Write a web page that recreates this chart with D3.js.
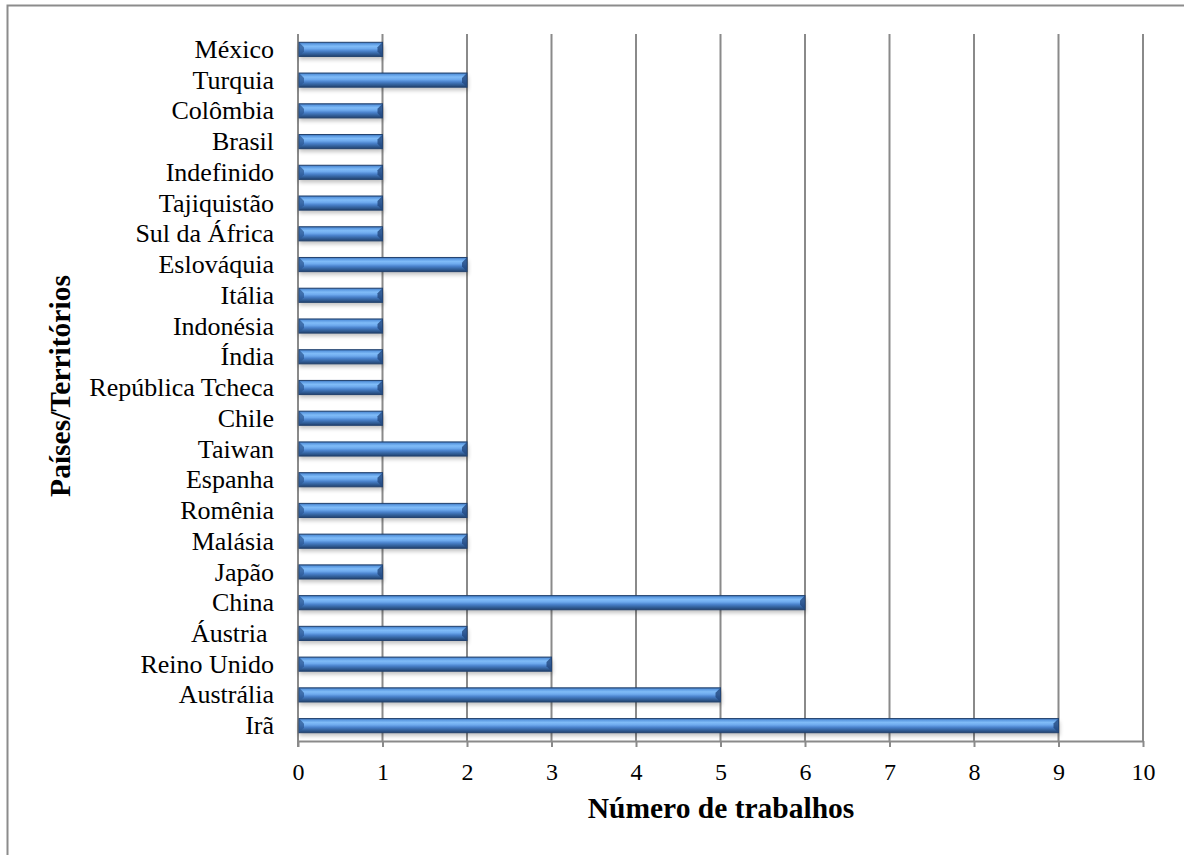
<!DOCTYPE html>
<html>
<head>
<meta charset="utf-8">
<script src="https://cdn.jsdelivr.net/npm/d3@7"></script>
<style>
  html, body { margin: 0; padding: 0; background: #fff; }
  text { font-family: "Liberation Serif", "Times New Roman", serif; }
</style>
</head>
<body>
<svg id="chart" width="1184" height="855"></svg>
<script>
// Countries/territories, listed bottom to top
const countries = ["Irã", "Austrália", "Reino Unido", "Áustria ", "China", "Japão", "Malásia",
  "Romênia", "Espanha", "Taiwan", "Chile", "República Tcheca", "Índia", "Indonésia", "Itália",
  "Eslováquia", "Sul da África", "Tajiquistão", "Indefinido", "Brasil", "Colômbia", "Turquia", "México"];
// Number of papers per country
const papers = [9, 5, 3, 2, 6, 1, 2, 2, 1, 2, 1, 1, 1, 1, 1, 2, 1, 1, 1, 1, 1, 2, 1];
const xTicks = [0, 1, 2, 3, 4, 5, 6, 7, 8, 9, 10];
const xTitle = "Número de trabalhos";
const yTitle = "Países/Territórios";

const svg = d3.select("#chart");
const margin = { left: 298, right: 1143, top: 34, bottom: 741 };

const x = d3.scaleLinear().domain([0, 10]).range([margin.left, margin.right]);
const y = d3.scaleBand().domain(countries.slice().reverse())
  .range([margin.top, margin.bottom]).paddingInner(0.54).paddingOuter(0.27);

// Outer frame
svg.append("rect").attr("x", 7.5).attr("y", 5.5).attr("width", 1200).attr("height", 900)
  .attr("fill", "none").attr("stroke", "#8c8c8c").attr("stroke-width", 2);

const defs = svg.append("defs");
const grad = defs.append("linearGradient").attr("id", "barGrad")
  .attr("x1", 0).attr("y1", 0).attr("x2", 0).attr("y2", 1);
[[0, "#3a6cae"], [0.1, "#5a98e0"], [0.28, "#80bcf8"], [0.45, "#6eaaee"],
 [0.62, "#4a82cc"], [0.8, "#34639f"], [1, "#22426f"]]
  .forEach(([o, c]) => grad.append("stop").attr("offset", o).attr("stop-color", c));

const shadow = defs.append("filter").attr("id", "shadow")
  .attr("x", "-5%").attr("y", "-50%").attr("width", "110%").attr("height", "250%");
shadow.append("feGaussianBlur").attr("stdDeviation", 2.2);

// Vertical gridlines
svg.append("g").selectAll("line").data(xTicks.slice(1)).join("line")
  .attr("x1", d => x(d)).attr("x2", d => x(d))
  .attr("y1", margin.top).attr("y2", margin.bottom)
  .attr("stroke", "#8a8a8a").attr("stroke-width", 2);

// Bottom axis with ticks
const xAxis = svg.append("g").attr("transform", `translate(0,${margin.bottom})`)
  .call(d3.axisBottom(x).tickValues(xTicks).tickSize(6).tickSizeOuter(0));
xAxis.select(".domain").attr("stroke", "#8a8a8a").attr("stroke-width", 2);
xAxis.selectAll(".tick line").attr("stroke", "#8a8a8a").attr("stroke-width", 2);
xAxis.selectAll(".tick text").attr("font-size", 24).attr("fill", "#000")
  .attr("y", 39).attr("dy", null)
  .attr("font-family", "Liberation Serif, serif");

// Left axis line
svg.append("line").attr("x1", x(0)).attr("x2", x(0))
  .attr("y1", margin.top).attr("y2", margin.bottom + 6)
  .attr("stroke", "#8a8a8a").attr("stroke-width", 2);

// Bar shadows
const bh = y.bandwidth();
svg.append("g").selectAll("rect").data(countries).join("rect")
  .attr("x", x(0) + 1).attr("y", d => y(d) + 3)
  .attr("width", (d, i) => x(papers[i]) - x(0))
  .attr("height", bh)
  .attr("fill", "#000").attr("opacity", 0.25).attr("filter", "url(#shadow)");

// Bars
const bars = svg.append("g").selectAll("g").data(countries).join("g");
bars.append("rect")
  .attr("x", x(0) + 1).attr("y", d => y(d))
  .attr("width", (d, i) => x(papers[i]) - x(0) - 1)
  .attr("height", bh)
  .attr("fill", "url(#barGrad)").attr("stroke", "#23436f").attr("stroke-width", 1);
// Bevelled end caps
bars.append("path")
  .attr("d", (d, i) => {
    const x1 = x(papers[i]), y0 = y(d), b = 5;
    return `M${x1},${y0}L${x1 - b},${y0 + b}L${x1 - b},${y0 + bh - b}L${x1},${y0 + bh}Z`;
  })
  .attr("fill", "#23497f").attr("opacity", 0.8);
bars.append("path")
  .attr("d", d => {
    const x0 = x(0) + 1, y0 = y(d), b = 5;
    return `M${x0},${y0}L${x0 + b},${y0 + b}L${x0 + b},${y0 + bh - b}L${x0},${y0 + bh}Z`;
  })
  .attr("fill", "#2d5a96").attr("opacity", 0.75);

// Category labels
svg.append("g").selectAll("text").data(countries).join("text")
  .attr("x", 274).attr("y", d => y(d) + bh / 2)
  .attr("dy", "0.33em")
  .attr("text-anchor", "end")
  .attr("font-size", 26).attr("fill", "#000")
  .style("white-space", "pre")
  .text(d => d);

// Axis titles
svg.append("text").attr("x", 721).attr("y", 818).attr("text-anchor", "middle")
  .attr("font-size", 29.5).attr("font-weight", "bold").text(xTitle);
svg.append("text").attr("transform", "translate(70,386) rotate(-90)")
  .attr("text-anchor", "middle").attr("font-size", 29.5).attr("font-weight", "bold").text(yTitle);
</script>
</body>
</html>
